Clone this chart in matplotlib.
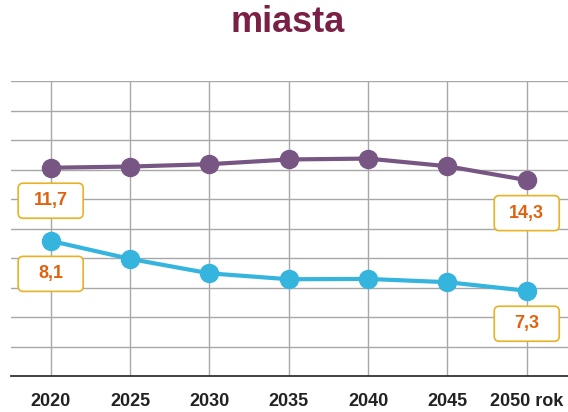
import matplotlib
matplotlib.use("Agg")
import matplotlib.pyplot as plt
import matplotlib.transforms as mtransforms
from matplotlib.patches import FancyBboxPatch

plt.rcParams['font.family'] = ['Liberation Sans', 'DejaVu Sans']

years = [2020, 2025, 2030, 2035, 2040, 2045, 2050]
tick_labels = ['2020', '2025', '2030', '2035', '2040', '2045', '2050 rok']
purple_vals = [7.06, 7.10, 7.18, 7.34, 7.37, 7.11, 6.64]
cyan_vals = [4.58, 3.97, 3.48, 3.28, 3.29, 3.18, 2.89]
purple_labels = ['11,7', '14,3']
cyan_labels = ['8,1', '7,3']

PURPLE = '#775683'
CYAN = '#35B4DE'
BOX_EDGE = '#E8B225'
LABEL_COL = '#E0620F'

fig = plt.figure(figsize=(5.68, 4.12), dpi=100)
ax = fig.add_axes([11 / 568, 1 - 376 / 412, 1 - 11 / 568, (376 - 81) / 412])

ax.set_xlim(2017.5, 2052.6)
ax.set_ylim(0, 10)
ax.set_xticks(years)
ax.set_xticklabels(tick_labels, fontsize=13, fontweight='bold', color='#222222')
ax.set_yticks(range(0, 11))
ax.set_yticklabels([])
ax.tick_params(length=0)
ax.tick_params(axis='x', pad=12)
ax.grid(True, color='#A8A8A8', linewidth=1.0)
ax.set_axisbelow(True)
for s in ['top', 'right', 'left']:
    ax.spines[s].set_visible(False)
ax.spines['bottom'].set_color('#333333')
ax.spines['bottom'].set_linewidth(1.3)

ax.plot(years, purple_vals, color=PURPLE, lw=3, marker='o', ms=13, zorder=3)
ax.plot(years, cyan_vals, color=CYAN, lw=3, marker='o', ms=13, zorder=3)


def label_box(x, y, txt):
    # fixed-size box (inches) placed below a data point
    trans = fig.dpi_scale_trans + mtransforms.ScaledTranslation(x, y, ax.transData)
    box = FancyBboxPatch((-0.325, -0.505), 0.65, 0.35,
                         boxstyle='round,pad=0,rounding_size=0.05',
                         transform=trans, facecolor='white',
                         edgecolor=BOX_EDGE, linewidth=1.2, zorder=4,
                         clip_on=False)
    ax.add_patch(box)
    ax.text(0, -0.33, txt, transform=trans, ha='center', va='center',
            fontsize=13, fontweight='bold', color=LABEL_COL, zorder=5)


label_box(years[0], purple_vals[0], purple_labels[0])
label_box(years[-1], purple_vals[-1], purple_labels[1])
label_box(years[0], cyan_vals[0], cyan_labels[0])
label_box(years[-1], cyan_vals[-1], cyan_labels[1])

fig.text(0.507, 0.945, 'miasta', ha='center', va='center', fontsize=26,
         fontweight='bold', color='#7A1F45')

fig.savefig('out.png', dpi=100)
